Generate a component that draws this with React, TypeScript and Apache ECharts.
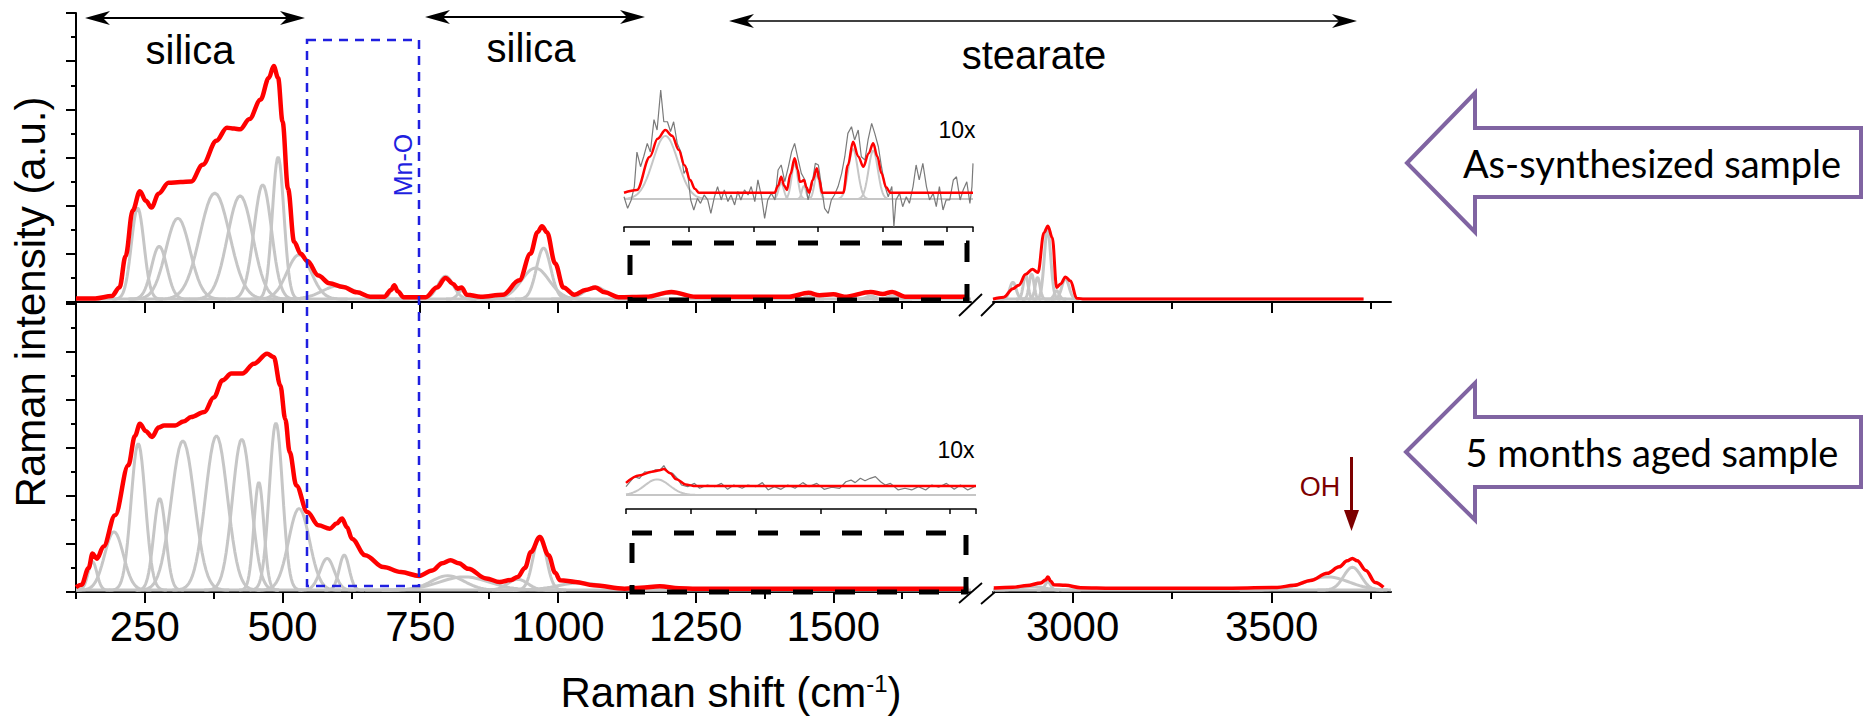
import React, { useEffect, useRef } from 'react';
import * as echarts from 'echarts';

// ---------------- data ----------------
const X_MAJOR_LEFT = [250, 500, 750, 1000, 1250, 1500];
const X_MINOR_LEFT = [125, 375, 625, 875, 1125, 1375, 1625];
const X_MAJOR_RIGHT = [3000, 3500];
const X_MINOR_RIGHT = [3250, 3750];

// As-synthesized sample: fitted band components (centre cm-1, height, sigma)
const TOP_PEAK_CENTER = [237, 276, 310, 377, 423, 464, 492, 530, 602, 703, 796, 825, 959, 974, 1068, 1206, 1455, 1568, 1607];
const TOP_PEAK_HEIGHT = [3.78, 2.19, 3.36, 4.4, 4.29, 4.75, 5.9, 1.84, 0.55, 0.55, 0.95, 0.35, 1.29, 2.12, 0.5, 0.25, 0.1, 0.12, 0.12];
const TOP_PEAK_SIGMA = [11.5, 14, 22, 27, 23, 16, 10.5, 22, 30, 7, 14, 7, 25, 13, 20, 26, 7, 9, 9];
const TOP_RIGHT_PEAK_CENTER = [2850, 2882, 2897, 2912, 2937, 2960, 2982];
const TOP_RIGHT_PEAK_HEIGHT = [0.7, 1.0, 1.05, 0.9, 2.9, 0.35, 0.85];
const TOP_RIGHT_PEAK_SIGMA = [8, 6, 6, 6, 8, 6, 9];

// Aged sample components
const BOT_PEAK_CENTER = [155, 194, 238, 277, 319, 380, 426, 457, 488, 530, 581, 612, 800, 830, 927, 967, 1040];
const BOT_PEAK_HEIGHT = [1.18, 2.43, 6.11, 3.82, 6.22, 6.43, 6.29, 4.49, 6.97, 3.4, 1.32, 1.46, 0.6, 0.55, 0.45, 2.25, 0.3];
const BOT_PEAK_SIGMA = [8, 17, 13, 11, 21, 20, 17, 9, 12, 19, 13, 9, 30, 45, 18, 12, 40];
const BOT_RIGHT_PEAK_CENTER = [2900, 2938, 3640, 3703];
const BOT_RIGHT_PEAK_HEIGHT = [0.15, 0.35, 0.55, 0.95];
const BOT_RIGHT_PEAK_SIGMA = [30, 7, 55, 22];

// Fitted envelopes (red)
const TOP_FIT_LEFT: number[][] = [[125, 0.15], [160, 0.15], [190, 0.25], [204, 0.6], [215, 1.9], [228, 3.8], [241, 4.6], [252, 4.2], [262, 3.92], [275, 4.5], [293, 4.95], [315, 4.98], [334, 5.0], [355, 5.7], [380, 6.7], [399, 7.24], [412, 7.2], [423, 7.17], [440, 7.6], [460, 8.4], [475, 9.3], [484, 9.8], [492, 9.3], [500, 7.5], [510, 4.7], [521, 2.5], [533, 2.0], [545, 1.7], [565, 1.1], [585, 0.78], [610, 0.62], [635, 0.4], [659, 0.22], [685, 0.22], [697, 0.5], [703, 0.7], [709, 0.45], [720, 0.2], [760, 0.2], [780, 0.6], [796, 1.0], [810, 0.75], [818, 0.55], [825, 0.6], [835, 0.3], [860, 0.22], [900, 0.3], [930, 0.9], [950, 2.0], [963, 2.9], [971, 3.15], [980, 2.9], [995, 1.6], [1010, 0.6], [1030, 0.3], [1050, 0.5], [1068, 0.6], [1085, 0.4], [1110, 0.2], [1160, 0.22], [1206, 0.42], [1250, 0.22], [1420, 0.22], [1455, 0.38], [1475, 0.28], [1500, 0.32], [1520, 0.22], [1568, 0.42], [1590, 0.33], [1607, 0.42], [1630, 0.22], [1745, 0.22]];
const TOP_FIT_RIGHT: number[][] = [[2800, 0.12], [2827, 0.2], [2850, 0.55], [2865, 0.7], [2882, 1.15], [2899, 1.36], [2913, 1.22], [2928, 2.88], [2938, 3.16], [2949, 2.67], [2960, 0.6], [2970, 0.75], [2982, 1.04], [2995, 0.87], [3010, 0.16], [3030, 0.12], [3731, 0.12]];
const BOT_FIT_LEFT: number[][] = [[125, 0.2], [135, 0.3], [148, 1.0], [155, 1.6], [163, 1.39], [175, 1.9], [196, 3.2], [220, 5.28], [232, 6.5], [241, 7.01], [252, 6.7], [263, 6.46], [275, 6.85], [285, 6.94], [305, 6.94], [320, 7.1], [334, 7.29], [358, 7.5], [375, 8.1], [391, 8.82], [407, 9.1], [427, 9.1], [448, 9.51], [472, 9.93], [484, 9.79], [496, 8.6], [505, 7.2], [513, 5.83], [525, 4.44], [545, 3.33], [565, 2.78], [586, 2.64], [598, 2.85], [608, 3.06], [617, 2.7], [626, 2.22], [650, 1.53], [683, 1.04], [715, 0.83], [748, 0.67], [772, 0.9], [790, 1.2], [805, 1.32], [820, 1.2], [837, 0.97], [870, 0.56], [894, 0.42], [915, 0.5], [927, 0.63], [940, 1.0], [951, 1.67], [967, 2.29], [983, 1.53], [995, 0.8], [1004, 0.49], [1032, 0.42], [1065, 0.28], [1121, 0.14], [1150, 0.18], [1185, 0.24], [1220, 0.16], [1251, 0.14], [1745, 0.14]];
const BOT_FIT_RIGHT: number[][] = [[2802, 0.17], [2850, 0.2], [2886, 0.27], [2920, 0.38], [2932, 0.5], [2938, 0.62], [2945, 0.45], [2953, 0.3], [2982, 0.28], [3020, 0.18], [3100, 0.16], [3400, 0.16], [3514, 0.19], [3556, 0.28], [3598, 0.48], [3640, 0.78], [3670, 1.05], [3690, 1.3], [3703, 1.4], [3715, 1.3], [3737, 0.9], [3760, 0.4], [3781, 0.2]];

// 10x insets
const TOP_INSET_FIT: number[][] = [[1125, 2.33], [1150, 2.52], [1175, 4.78], [1190, 6.0], [1205, 6.6], [1218, 6.2], [1231, 5.24], [1242, 4.2], [1253, 3.2], [1262, 2.6], [1270, 2.33], [1416, 2.33], [1423, 2.8], [1429, 3.42], [1435, 2.8], [1440, 2.52], [1447, 3.6], [1455, 4.67], [1461, 3.9], [1465, 3.08], [1469, 3.1], [1473, 3.2], [1478, 2.7], [1483, 2.33], [1490, 3.2], [1498, 3.99], [1503, 3.2], [1508, 2.33], [1549, 2.33], [1558, 4.2], [1568, 5.8], [1578, 4.8], [1588, 4.1], [1598, 5.0], [1607, 5.69], [1615, 4.8], [1623, 3.65], [1632, 2.7], [1640, 2.33], [1800, 2.33]];
const TOP_INSET_RAW: number[][] = [[1125, 2.06], [1132, 1.27], [1139, 1.84], [1145, 2.75], [1150, 5.1], [1157, 4.1], [1163, 4.78], [1170, 5.69], [1176, 5.1], [1183, 7.3], [1189, 6.6], [1196, 9.32], [1202, 7.16], [1209, 7.16], [1215, 6.5], [1221, 7.16], [1228, 5.69], [1235, 5.1], [1241, 3.65], [1247, 4.0], [1254, 1.84], [1260, 1.16], [1267, 1.95], [1273, 1.61], [1280, 2.18], [1287, 1.84], [1293, 0.93], [1300, 2.06], [1306, 2.75], [1313, 1.84], [1319, 2.52], [1326, 1.73], [1332, 2.18], [1339, 1.5], [1345, 2.41], [1351, 1.84], [1358, 2.52], [1365, 2.18], [1371, 2.75], [1378, 1.73], [1384, 3.2], [1391, 2.06], [1397, 0.59], [1403, 1.84], [1410, 2.29], [1417, 1.84], [1423, 3.88], [1429, 4.22], [1436, 3.08], [1443, 4.1], [1449, 5.1], [1455, 5.69], [1462, 4.56], [1468, 3.65], [1475, 3.2], [1481, 1.84], [1488, 2.75], [1495, 4.33], [1501, 4.22], [1507, 2.75], [1513, 1.27], [1520, 0.93], [1526, 1.84], [1532, 2.18], [1539, 2.75], [1546, 3.65], [1552, 4.78], [1558, 6.37], [1565, 6.82], [1571, 5.92], [1578, 6.6], [1584, 4.78], [1591, 4.56], [1597, 5.92], [1604, 7.05], [1610, 6.37], [1617, 5.46], [1623, 4.1], [1630, 2.75], [1636, 2.06], [1643, 2.75], [1647, 0.02], [1651, 1.84], [1658, 2.29], [1664, 1.38], [1671, 2.06], [1677, 1.61], [1684, 2.75], [1690, 4.22], [1696, 3.2], [1703, 4.33], [1710, 2.75], [1716, 1.84], [1723, 2.29], [1729, 1.38], [1735, 2.75], [1742, 1.16], [1748, 1.84], [1755, 1.84], [1762, 3.2], [1768, 3.42], [1775, 1.84], [1781, 2.52], [1788, 3.08], [1794, 1.61], [1798, 2.75], [1800, 4.33]];
const TOP_INSET_PEAK_CENTER = [1205, 1429, 1455, 1473, 1498, 1568, 1607];
const TOP_INSET_PEAK_HEIGHT = [4.3, 1.1, 2.4, 0.9, 1.65, 3.4, 3.3];
const TOP_INSET_PEAK_SIGMA = [24, 5, 6, 4, 5, 9, 9];
const BOT_INSET_FIT: number[][] = [[1125, 1.75], [1150, 2.25], [1175, 2.5], [1190, 2.6], [1198, 2.68], [1210, 2.4], [1222, 2.0], [1240, 1.65], [1255, 1.55], [1800, 1.55]];
const BOT_INSET_RAW: number[][] = [[1125, 1.5], [1133, 1.83], [1141, 2.17], [1151, 2.06], [1161, 2.5], [1171, 2.44], [1181, 2.62], [1191, 2.62], [1198, 2.91], [1205, 2.5], [1215, 2.39], [1224, 2.06], [1232, 1.61], [1244, 1.5], [1257, 1.72], [1267, 1.39], [1282, 1.61], [1296, 1.5], [1309, 1.72], [1321, 1.32], [1333, 1.61], [1349, 1.39], [1360, 1.61], [1375, 1.5], [1388, 1.77], [1399, 1.28], [1411, 1.5], [1424, 1.32], [1437, 1.61], [1451, 1.39], [1466, 1.77], [1478, 1.5], [1493, 1.72], [1507, 1.32], [1522, 1.46], [1537, 1.39], [1549, 1.83], [1559, 1.94], [1567, 1.77], [1577, 2.06], [1586, 1.9], [1596, 2.06], [1606, 2.17], [1616, 1.83], [1625, 1.61], [1635, 1.72], [1650, 1.28], [1663, 1.39], [1676, 1.28], [1689, 1.5], [1703, 1.28], [1715, 1.61], [1728, 1.46], [1743, 1.72], [1758, 1.32], [1770, 1.61], [1784, 1.28], [1797, 1.5]];
const BOT_INSET_PEAK_CENTER = [1185];
const BOT_INSET_PEAK_HEIGHT = [1.05];
const BOT_INSET_PEAK_SIGMA = [24];

const BASE_TOP = 0.12;
const BASE_BOT = 0.08;
const BASE_TOP_INSET = 1.9;
const BASE_BOT_INSET = 0.94;

// ---------------- helpers ----------------
const FONT = "'Liberation Sans', Arial, sans-serif";
const RED = '#ff0000';
const GREY = '#c6c6c6';

function bandCurve(c: number, h: number, s: number, base: number, xmin: number, xmax: number) {
  const pts: number[][] = [];
  const lo = Math.max(xmin, c - 4 * s);
  const hi = Math.min(xmax, c + 4 * s);
  const n = 48;
  for (let i = 0; i <= n; i++) {
    const x = lo + ((hi - lo) * i) / n;
    pts.push([x, base + h * Math.exp(-((x - c) * (x - c)) / (2 * s * s))]);
  }
  return pts;
}

function bands(cs: number[], hs: number[], ss: number[], base: number, xmin: number, xmax: number, xi: number, yi: number, w = 3) {
  return cs.map((c, i) => ({
    type: 'line', xAxisIndex: xi, yAxisIndex: yi, data: bandCurve(c, hs[i], ss[i], base, xmin, xmax),
    showSymbol: false, symbol: 'none', silent: true, z: 2,
    lineStyle: { color: GREY, width: w },
  }));
}

function line(data: number[][], xi: number, yi: number, color: string, width: number, z: number, smooth: number | boolean) {
  return {
    type: 'line', xAxisIndex: xi, yAxisIndex: yi, data, showSymbol: false, symbol: 'none', silent: true, z,
    smooth, smoothMonotone: 'x', lineStyle: { color, width },
  };
}

function xAxisPair(grid: number, min: number, max: number, major: number[], minor: number[], labels: boolean) {
  return [
    {
      type: 'value', gridIndex: grid, min, max, position: 'bottom',
      axisLine: { show: true, lineStyle: { color: '#000', width: 2 } },
      axisTick: { show: true, inside: false, length: 11, customValues: major, lineStyle: { color: '#000', width: 2 } },
      axisLabel: {
        show: labels, customValues: major, fontSize: 42, fontFamily: FONT, color: '#000', margin: 13,
        formatter: (v: number) => String(v),
      },
      splitLine: { show: false },
    },
    {
      type: 'value', gridIndex: grid, min, max, position: 'bottom',
      axisLine: { show: false },
      axisTick: { show: true, inside: false, length: 7, customValues: minor, lineStyle: { color: '#000', width: 2 } },
      axisLabel: { show: false },
      splitLine: { show: false },
    },
  ];
}

function yAxisFor(grid: number, show: boolean, max: number) {
  return {
    type: 'value', gridIndex: grid, min: 0, max, interval: 2, show,
    axisLine: { show, lineStyle: { color: '#000', width: 2 } },
    axisTick: { show, length: 10, lineStyle: { color: '#000', width: 2 } },
    minorTick: { show, splitNumber: 2, length: 5, lineStyle: { color: '#000', width: 2 } },
    axisLabel: { show: false },
    splitLine: { show: false },
    minorSplitLine: { show: false },
  };
}

function dblArrow(x1: number, x2: number, y: number, w: number) {
  return [
    { type: 'line', shape: { x1: x1 + 10, y1: y, x2: x2 - 10, y2: y }, style: { stroke: '#000', lineWidth: w } },
    { type: 'polygon', shape: { points: [[x1, y], [x1 + 25, y - 7], [x1 + 18, y], [x1 + 25, y + 7]] }, style: { fill: '#000' } },
    { type: 'polygon', shape: { points: [[x2, y], [x2 - 25, y - 7], [x2 - 18, y], [x2 - 25, y + 7]] }, style: { fill: '#000' } },
  ];
}

function txt(text: string, x: number, y: number, size: number, color = '#000', rotation = 0, family = FONT) {
  return {
    type: 'text', x, y, rotation,
    style: { text, fontSize: size, fontFamily: family, fill: color, align: 'center', verticalAlign: 'middle' },
  };
}

export default function App() {
  const ref = useRef<HTMLDivElement>(null);
  useEffect(() => {
    document.body.style.margin = '0';
    if (!ref.current) return;
    const chart = echarts.init(ref.current, null, { renderer: 'svg' });

    const grids = [
      { left: 76, top: 13, width: 895, height: 289 },
      { left: 993, top: 13, width: 398, height: 289 },
      { left: 76, top: 304, width: 895, height: 288 },
      { left: 993, top: 304, width: 398, height: 288 },
      { left: 624, top: 80, width: 349, height: 147 },
      { left: 626, top: 360, width: 350, height: 149 },
    ].map((g) => ({ ...g, containLabel: false, outerBoundsMode: 'none', show: false }));

    const xAxes = [
      ...xAxisPair(0, 125, 1750, X_MAJOR_LEFT, X_MINOR_LEFT, false),
      ...xAxisPair(1, 2800, 3800, X_MAJOR_RIGHT, X_MINOR_RIGHT, false),
      ...xAxisPair(2, 125, 1750, X_MAJOR_LEFT, X_MINOR_LEFT, true),
      ...xAxisPair(3, 2800, 3800, X_MAJOR_RIGHT, X_MINOR_RIGHT, true),
      {
        type: 'value', gridIndex: 4, min: 1125, max: 1800, interval: 125,
        axisLine: { lineStyle: { color: '#000', width: 1.5 } },
        axisTick: { length: 5, lineStyle: { color: '#000', width: 1.5 } },
        axisLabel: { show: false }, splitLine: { show: false },
      },
      {
        type: 'value', gridIndex: 5, min: 1125, max: 1800, interval: 125,
        axisLine: { lineStyle: { color: '#000', width: 1.5 } },
        axisTick: { length: 5, lineStyle: { color: '#000', width: 1.5 } },
        axisLabel: { show: false }, splitLine: { show: false },
      },
    ];
    const yAxes = [
      yAxisFor(0, true, 12), yAxisFor(1, false, 12), yAxisFor(2, true, 12), yAxisFor(3, false, 12),
      yAxisFor(4, false, 10), yAxisFor(5, false, 10),
    ];

    const series: any[] = [
      line([[125, BASE_TOP], [1750, BASE_TOP]], 0, 0, GREY, 3, 1, false),
      line([[2800, BASE_TOP], [3731, BASE_TOP]], 2, 1, GREY, 3, 1, false),
      line([[125, BASE_BOT], [1750, BASE_BOT]], 4, 2, GREY, 3, 1, false),
      line([[2800, BASE_BOT], [3781, BASE_BOT]], 6, 3, GREY, 3, 1, false),
      line([[1125, BASE_TOP_INSET], [1800, BASE_TOP_INSET]], 8, 4, GREY, 2, 1, false),
      line([[1125, BASE_BOT_INSET], [1800, BASE_BOT_INSET]], 9, 5, GREY, 2, 1, false),
      ...bands(TOP_PEAK_CENTER, TOP_PEAK_HEIGHT, TOP_PEAK_SIGMA, BASE_TOP, 125, 1750, 0, 0),
      ...bands(TOP_RIGHT_PEAK_CENTER, TOP_RIGHT_PEAK_HEIGHT, TOP_RIGHT_PEAK_SIGMA, BASE_TOP, 2800, 3800, 2, 1),
      ...bands(BOT_PEAK_CENTER, BOT_PEAK_HEIGHT, BOT_PEAK_SIGMA, BASE_BOT, 125, 1750, 4, 2),
      ...bands(BOT_RIGHT_PEAK_CENTER, BOT_RIGHT_PEAK_HEIGHT, BOT_RIGHT_PEAK_SIGMA, BASE_BOT, 2800, 3800, 6, 3),
      ...bands(TOP_INSET_PEAK_CENTER, TOP_INSET_PEAK_HEIGHT, TOP_INSET_PEAK_SIGMA, BASE_TOP_INSET, 1125, 1800, 8, 4, 2),
      ...bands(BOT_INSET_PEAK_CENTER, BOT_INSET_PEAK_HEIGHT, BOT_INSET_PEAK_SIGMA, BASE_BOT_INSET, 1125, 1800, 9, 5, 2),
      line(TOP_INSET_RAW, 8, 4, '#7a7a7a', 1.2, 3, false),
      line(BOT_INSET_RAW, 9, 5, '#7a7a7a', 1.2, 3, false),
      line(TOP_FIT_LEFT, 0, 0, RED, 4.5, 5, 0.35),
      line(TOP_FIT_RIGHT, 2, 1, RED, 3, 5, 0.35),
      line(BOT_FIT_LEFT, 4, 2, RED, 4.5, 5, 0.35),
      line(BOT_FIT_RIGHT, 6, 3, RED, 3.5, 5, 0.35),
      line(TOP_INSET_FIT, 8, 4, RED, 2.5, 5, 0.35),
      line(BOT_INSET_FIT, 9, 5, RED, 2.5, 5, 0.35),
    ];

    const BLUE = '#1f1fe0';
    const PURPLE = '#8064a2';
    const DARKRED = '#7d0000';
    const graphic: any[] = [
      ...dblArrow(85, 305, 18, 2.2),
      ...dblArrow(425, 645, 17, 2),
      ...dblArrow(729, 1357, 21, 1.6),
      txt('silica', 190, 50, 40),
      txt('silica', 531, 48, 40),
      txt('stearate', 1034, 55, 40),
      { type: 'rect', shape: { x: 307, y: 40, width: 112, height: 546 }, style: { fill: 'none', stroke: BLUE, lineWidth: 2.5, lineDash: [9, 7] } },
      txt('Mn-O', 403, 165, 25, BLUE, Math.PI / 2),
      { type: 'rect', shape: { x: 630, y: 243, width: 337, height: 57 }, style: { fill: 'none', stroke: '#000', lineWidth: 5, lineDash: [20, 22] } },
      { type: 'rect', shape: { x: 632, y: 533, width: 334, height: 59 }, style: { fill: 'none', stroke: '#000', lineWidth: 5, lineDash: [20, 22] } },
      txt('10x', 957, 130, 23),
      txt('10x', 956, 450, 23),
      { type: 'line', shape: { x1: 959, y1: 316, x2: 982, y2: 294 }, style: { stroke: '#000', lineWidth: 1.8 } },
      { type: 'line', shape: { x1: 981, y1: 316, x2: 995, y2: 302 }, style: { stroke: '#000', lineWidth: 1.8 } },
      { type: 'line', shape: { x1: 959, y1: 603, x2: 982, y2: 583 }, style: { stroke: '#000', lineWidth: 1.8 } },
      { type: 'line', shape: { x1: 981, y1: 604, x2: 995, y2: 592 }, style: { stroke: '#000', lineWidth: 1.8 } },
      txt('Raman intensity (a.u.)', 30, 302, 42, '#000', Math.PI / 2),
      {
        type: 'text', x: 731, y: 692,
        style: {
          text: '{a|Raman shift (cm}{b|-1}{a|)}', align: 'center', verticalAlign: 'middle',
          rich: {
            a: { fontSize: 42, fontFamily: FONT, fill: '#000' },
            b: { fontSize: 24, fontFamily: FONT, fill: '#000', verticalAlign: 'top', padding: [0, 0, 18, 0] },
          },
        },
      },
      txt('OH', 1320, 487, 27, DARKRED),
      { type: 'line', shape: { x1: 1351.5, y1: 457, x2: 1351.5, y2: 515 }, style: { stroke: DARKRED, lineWidth: 3 } },
      { type: 'polygon', shape: { points: [[1344, 510], [1359, 510], [1351.5, 531]] }, style: { fill: DARKRED } },
      { type: 'polygon', shape: { points: [[1407, 163], [1475, 93], [1475, 128], [1861, 128], [1861, 197], [1475, 197], [1475, 232]] }, style: { fill: '#fff', stroke: PURPLE, lineWidth: 4 } },
      { type: 'polygon', shape: { points: [[1406, 452], [1475, 383], [1475, 417], [1861, 417], [1861, 487], [1475, 487], [1475, 520]] }, style: { fill: '#fff', stroke: PURPLE, lineWidth: 4 } },
      txt('As-synthesized sample', 1652, 163, 38, '#000', 0, 'Lato, sans-serif'),
      txt('5 months aged sample', 1652, 452, 38, '#000', 0, 'Lato, sans-serif'),
    ].map((g) => ({ ...g, z: 100, silent: true }));

    chart.setOption({
      animation: false,
      backgroundColor: '#fff',
      grid: grids,
      xAxis: xAxes,
      yAxis: yAxes,
      series,
      graphic,
    });
    return () => chart.dispose();
  }, []);
  return <div ref={ref} style={{ width: 1864, height: 720 }} />;
}
